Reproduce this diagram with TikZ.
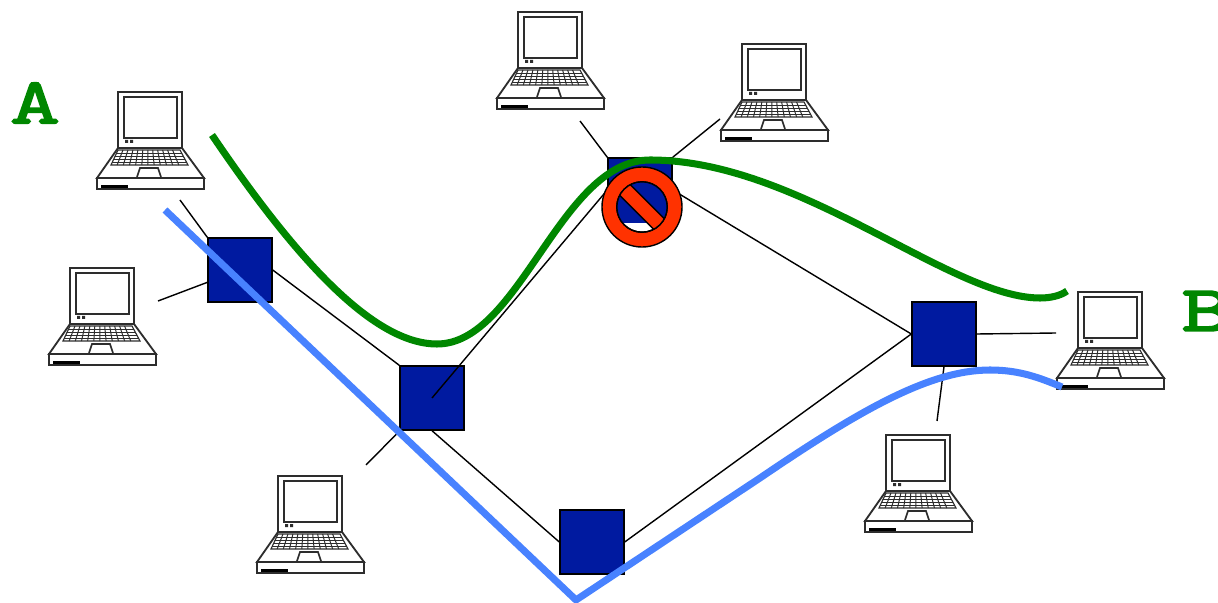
\documentclass[tikz,border=0pt]{standalone}
\usepackage{fontspec}
\usepackage{xcolor}
\usetikzlibrary{calc}
\newfontfamily\labfont[FakeStretch=1.5,FakeBold=3]{Latin Modern Mono}
\definecolor{myblue}{RGB}{0,26,160}
\definecolor{mygreen}{RGB}{0,135,0}
\definecolor{mysky}{RGB}{72,130,255}
\definecolor{myred}{RGB}{255,50,0}
\definecolor{mygray}{RGB}{45,45,45}

\tikzset{
  laptop/.pic={
    % --- Screen ---
    \draw[mygray,line width=1.6pt,fill=white] (21,2) rectangle (85,58);
    \draw[mygray,line width=1.1pt] (27,7) rectangle (80,48);
    \fill[mygray] (28,50) rectangle (31,53) (33,50) rectangle (36,53);
    % --- Base ---
    \draw[mygray,line width=1.3pt,fill=white] (21,58) -- (85,58) -- (107,88) -- (0,88) -- cycle;
    \draw[mygray,line width=1.5pt,fill=white] (0,88) rectangle (107,99);
    \fill[black] (4,95) rectangle (31,98);
    % --- Keyboard ---
    \draw[mygray,line width=0.8pt] (21,60) -- (83,60) -- (91,75) -- (14,75) -- cycle;
    \foreach \t in {0.2,0.4,0.6,0.8}
      \draw[mygray,line width=0.7pt] (21-7*\t,60+15*\t) -- (83+8*\t,60+15*\t);
    \foreach \t in {0.08,0.16,...,0.96}
      \draw[mygray,line width=0.7pt] (21+62*\t,60) -- (14+77*\t,75);
    % --- Trackpad ---
    \draw[mygray,line width=1.2pt] (40,87) -- (43,78) -- (61,78) -- (64,87);
  }
}

\begin{document}
\begin{tikzpicture}[
  x=0.025cm,y=-0.025cm,
  switchbox/.style={draw=black,line width=1pt,fill=myblue,minimum size=1.6cm,inner sep=0pt},
  wire/.style={line width=1pt,black},
  route/.style={line width=5pt},
  lab/.style={mygreen,font=\fontsize{46}{46}\labfont,inner sep=0pt}
]

\useasboundingbox (0,0) rectangle (1218,603);

% --- Laptops ---
\pic at (97,90) {laptop};
\pic at (49,266) {laptop};
\pic at (257,474) {laptop};
\pic at (497,10) {laptop};
\pic at (721,42) {laptop};
\pic at (1057,290) {laptop};
\pic at (865,433) {laptop};

% --- Free ends of the access wires ---
\coordinate (a1) at (180,200);
\coordinate (a2) at (158,301);
\coordinate (a3) at (366,465);
\coordinate (a4) at (580,121);
\coordinate (a5) at (720,119);
\coordinate (a6) at (1056,333);
\coordinate (a7) at (937,421);

% --- Switches ---
\node[switchbox] (s1) at (240,270) {};
\node[switchbox] (s2) at (432,398) {};
\node[switchbox] (s3) at (592,542) {};
\node[switchbox] (s4) at (944,334) {};
\node[switchbox] (s5) at (640,190) {};

% --- Wires ---
\draw[wire] (s1.north west) -- (a1);
\draw[wire] (s1) -- (a2);
\draw[wire] (s2) -- (a3);
\draw[wire] (s5.north west) -- (a4);
\draw[wire] (s5.north east) -- (a5);
\draw[wire] (s4.east) -- (a6);
\draw[wire] (s4.south) -- (a7);
\draw[wire] (s1.east) -- (s2.north west);
\draw[wire] (s2.south) -- (s3.west);
\draw[wire] (s3.east) -- (s4.west);
\draw[wire] (s4.west) -- (s5.east);
\draw[wire] (s2.center) -- (s5.west);

% --- Routes ---
\draw[route,mysky] (165,210) -- (576,600) -- (760,478)
  .. controls (860,410) and (930,370) .. (990,370)
  .. controls (1020,370) and (1040,378) .. (1062,387);

\draw[route,mygreen] (212,135)
  .. controls (290,250) and (370,344) .. (437,344)
  .. controls (520,344) and (560,160) .. (650,160)
  .. controls (800,160) and (950,298) .. (1040,298)
  .. controls (1050,298) and (1060,296) .. (1067,291);

% --- Blocked sign ---
\coordinate (sign) at (642,207);
\draw[fill=myred,line width=1pt] (sign) circle[radius=1cm];
\draw[fill=white,line width=1pt] (sign) circle[radius=0.63cm];
\begin{scope}
  \clip (sign) circle[radius=0.63cm];
  \fill[myblue] (s5.south west) rectangle (s5.north east);
  \draw[fill=myred,line width=1pt,rotate around={-45:(sign)}] ($(sign)+(-50,-7.5)$) rectangle ($(sign)+(50,7.5)$);
\end{scope}
\draw[line width=1pt] (sign) circle[radius=0.63cm];

% --- End labels ---
\node[lab] (labA) at (35,103) {A};
\node[lab,anchor=west] (labB) at (1181,311) {B};

\end{tikzpicture}
\end{document}
